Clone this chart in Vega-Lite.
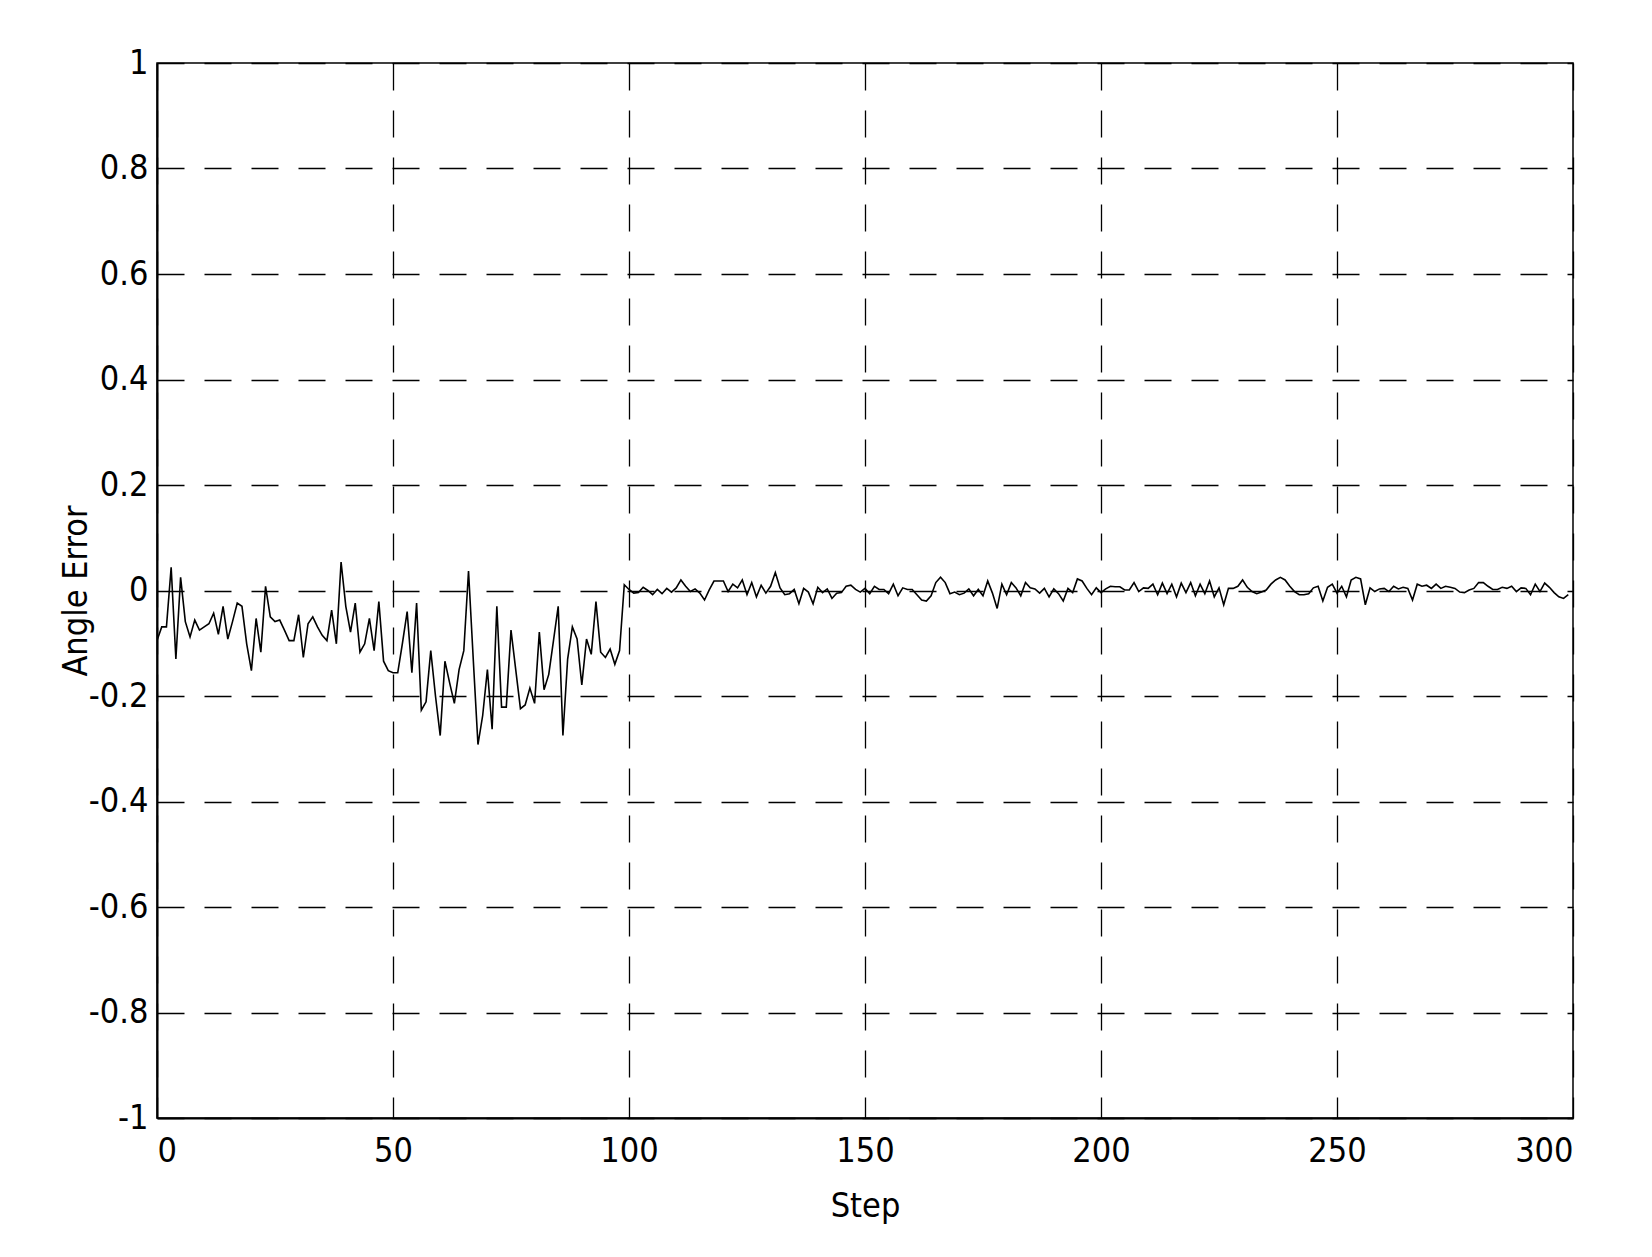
{
  "$schema": "https://vega.github.io/schema/vega-lite/v6.json",
  "width": 1416,
  "height": 1055,
  "autosize": "none",
  "padding": {"left": 157, "top": 63, "right": 79, "bottom": 139},
  "background": "white",
  "data": {
    "values": [
      {"step":0,"err":-0.095},{"step":1,"err":-0.069},{"step":2,"err":-0.069},{"step":3,"err":0.044},{"step":4,"err":-0.13},
      {"step":5,"err":0.025},{"step":6,"err":-0.059},{"step":7,"err":-0.088},{"step":8,"err":-0.056},{"step":9,"err":-0.075},
      {"step":10,"err":-0.069},{"step":11,"err":-0.063},{"step":12,"err":-0.043},{"step":13,"err":-0.083},{"step":14,"err":-0.03},
      {"step":15,"err":-0.092},{"step":16,"err":-0.059},{"step":17,"err":-0.024},{"step":18,"err":-0.03},{"step":19,"err":-0.101},
      {"step":20,"err":-0.152},{"step":21,"err":-0.053},{"step":22,"err":-0.117},{"step":23,"err":0.008},{"step":24,"err":-0.05},
      {"step":25,"err":-0.059},{"step":26,"err":-0.056},{"step":27,"err":-0.075},{"step":28,"err":-0.095},{"step":29,"err":-0.095},
      {"step":30,"err":-0.046},{"step":31,"err":-0.127},{"step":32,"err":-0.063},{"step":33,"err":-0.05},{"step":34,"err":-0.069},
      {"step":35,"err":-0.085},{"step":36,"err":-0.095},{"step":37,"err":-0.037},{"step":38,"err":-0.101},{"step":39,"err":0.054},
      {"step":40,"err":-0.03},{"step":41,"err":-0.079},{"step":42,"err":-0.024},{"step":43,"err":-0.117},{"step":44,"err":-0.101},
      {"step":45,"err":-0.053},{"step":46,"err":-0.114},{"step":47,"err":-0.021},{"step":48,"err":-0.134},{"step":49,"err":-0.152},
      {"step":50,"err":-0.156},{"step":51,"err":-0.156},{"step":52,"err":-0.1},{"step":53,"err":-0.04},{"step":54,"err":-0.156},
      {"step":55,"err":-0.024},{"step":56,"err":-0.227},{"step":57,"err":-0.211},{"step":58,"err":-0.114},{"step":59,"err":-0.2},
      {"step":60,"err":-0.275},{"step":61,"err":-0.134},{"step":62,"err":-0.175},{"step":63,"err":-0.214},{"step":64,"err":-0.15},
      {"step":65,"err":-0.114},{"step":66,"err":0.037},{"step":67,"err":-0.13},{"step":68,"err":-0.292},{"step":69,"err":-0.237},
      {"step":70,"err":-0.15},{"step":71,"err":-0.263},{"step":72,"err":-0.03},{"step":73,"err":-0.221},{"step":74,"err":-0.221},
      {"step":75,"err":-0.075},{"step":76,"err":-0.15},{"step":77,"err":-0.224},{"step":78,"err":-0.217},{"step":79,"err":-0.185},
      {"step":80,"err":-0.214},{"step":81,"err":-0.079},{"step":82,"err":-0.188},{"step":83,"err":-0.159},{"step":84,"err":-0.095},
      {"step":85,"err":-0.03},{"step":86,"err":-0.275},{"step":87,"err":-0.13},{"step":88,"err":-0.069},{"step":89,"err":-0.092},
      {"step":90,"err":-0.179},{"step":91,"err":-0.092},{"step":92,"err":-0.121},{"step":93,"err":-0.021},{"step":94,"err":-0.117},
      {"step":95,"err":-0.127},{"step":96,"err":-0.111},{"step":97,"err":-0.14},{"step":98,"err":-0.114},{"step":99,"err":0.011},
      {"step":100,"err":0.002},{"step":101,"err":-0.005},{"step":102,"err":-0.004},{"step":103,"err":0.006},{"step":104,"err":0.0},
      {"step":105,"err":-0.008},{"step":106,"err":0.002},{"step":107,"err":-0.006},{"step":108,"err":0.004},{"step":109,"err":-0.003},
      {"step":110,"err":0.005},{"step":111,"err":0.02},{"step":112,"err":0.008},{"step":113,"err":-0.002},{"step":114,"err":0.003},
      {"step":115,"err":-0.005},{"step":116,"err":-0.018},{"step":117,"err":0.001},{"step":118,"err":0.018},{"step":119,"err":0.018},
      {"step":120,"err":0.018},{"step":121,"err":-0.002},{"step":122,"err":0.012},{"step":123,"err":0.005},{"step":124,"err":0.02},
      {"step":125,"err":-0.008},{"step":126,"err":0.015},{"step":127,"err":-0.012},{"step":128,"err":0.01},{"step":129,"err":-0.005},
      {"step":130,"err":0.008},{"step":131,"err":0.034},{"step":132,"err":0.005},{"step":133,"err":-0.008},{"step":134,"err":-0.006},
      {"step":135,"err":0.002},{"step":136,"err":-0.025},{"step":137,"err":0.004},{"step":138,"err":-0.003},{"step":139,"err":-0.025},
      {"step":140,"err":0.006},{"step":141,"err":-0.004},{"step":142,"err":0.003},{"step":143,"err":-0.015},{"step":144,"err":-0.005},
      {"step":145,"err":-0.004},{"step":146,"err":0.008},{"step":147,"err":0.01},{"step":148,"err":0.002},{"step":149,"err":-0.003},
      {"step":150,"err":0.004},{"step":151,"err":-0.006},{"step":152,"err":0.008},{"step":153,"err":0.002},{"step":154,"err":0.002},
      {"step":155,"err":-0.006},{"step":156,"err":0.012},{"step":157,"err":-0.01},{"step":158,"err":0.005},{"step":159,"err":0.002},
      {"step":160,"err":0.002},{"step":161,"err":-0.008},{"step":162,"err":-0.018},{"step":163,"err":-0.02},{"step":164,"err":-0.01},
      {"step":165,"err":0.015},{"step":166,"err":0.025},{"step":167,"err":0.015},{"step":168,"err":-0.006},{"step":169,"err":-0.003},
      {"step":170,"err":-0.008},{"step":171,"err":-0.005},{"step":172,"err":0.003},{"step":173,"err":-0.01},{"step":174,"err":0.002},
      {"step":175,"err":-0.01},{"step":176,"err":0.018},{"step":177,"err":-0.005},{"step":178,"err":-0.034},{"step":179,"err":0.012},
      {"step":180,"err":-0.008},{"step":181,"err":0.015},{"step":182,"err":0.005},{"step":183,"err":-0.01},{"step":184,"err":0.015},
      {"step":185,"err":0.005},{"step":186,"err":0.003},{"step":187,"err":-0.005},{"step":188,"err":0.004},{"step":189,"err":-0.012},
      {"step":190,"err":0.003},{"step":191,"err":-0.006},{"step":192,"err":-0.02},{"step":193,"err":0.004},{"step":194,"err":-0.004},
      {"step":195,"err":0.022},{"step":196,"err":0.018},{"step":197,"err":0.004},{"step":198,"err":-0.008},{"step":199,"err":0.005},
      {"step":200,"err":-0.004},{"step":201,"err":0.003},{"step":202,"err":0.008},{"step":203,"err":0.007},{"step":204,"err":0.007},
      {"step":205,"err":0.001},{"step":206,"err":0.001},{"step":207,"err":0.015},{"step":208,"err":-0.002},{"step":209,"err":0.005},
      {"step":210,"err":0.004},{"step":211,"err":0.012},{"step":212,"err":-0.008},{"step":213,"err":0.014},{"step":214,"err":-0.006},
      {"step":215,"err":0.012},{"step":216,"err":-0.012},{"step":217,"err":0.014},{"step":218,"err":-0.004},{"step":219,"err":0.015},
      {"step":220,"err":-0.01},{"step":221,"err":0.012},{"step":222,"err":-0.006},{"step":223,"err":0.018},{"step":224,"err":-0.012},
      {"step":225,"err":0.005},{"step":226,"err":-0.027},{"step":227,"err":0.004},{"step":228,"err":0.004},{"step":229,"err":0.008},
      {"step":230,"err":0.02},{"step":231,"err":0.006},{"step":232,"err":-0.002},{"step":233,"err":-0.006},{"step":234,"err":-0.003},
      {"step":235,"err":0.001},{"step":236,"err":0.012},{"step":237,"err":0.02},{"step":238,"err":0.025},{"step":239,"err":0.02},
      {"step":240,"err":0.008},{"step":241,"err":-0.002},{"step":242,"err":-0.008},{"step":243,"err":-0.008},{"step":244,"err":-0.006},
      {"step":245,"err":0.005},{"step":246,"err":0.008},{"step":247,"err":-0.02},{"step":248,"err":0.006},{"step":249,"err":0.012},
      {"step":250,"err":-0.005},{"step":251,"err":0.008},{"step":252,"err":-0.012},{"step":253,"err":0.02},{"step":254,"err":0.025},
      {"step":255,"err":0.022},{"step":256,"err":-0.027},{"step":257,"err":0.005},{"step":258,"err":-0.002},{"step":259,"err":0.003},
      {"step":260,"err":0.004},{"step":261,"err":-0.002},{"step":262,"err":0.008},{"step":263,"err":0.003},{"step":264,"err":0.006},
      {"step":265,"err":0.004},{"step":266,"err":-0.018},{"step":267,"err":0.012},{"step":268,"err":0.008},{"step":269,"err":0.01},
      {"step":270,"err":0.004},{"step":271,"err":0.012},{"step":272,"err":0.004},{"step":273,"err":0.008},{"step":274,"err":0.006},
      {"step":275,"err":0.004},{"step":276,"err":-0.003},{"step":277,"err":-0.004},{"step":278,"err":0.001},{"step":279,"err":0.004},
      {"step":280,"err":0.015},{"step":281,"err":0.015},{"step":282,"err":0.008},{"step":283,"err":0.002},{"step":284,"err":0.002},
      {"step":285,"err":0.006},{"step":286,"err":0.004},{"step":287,"err":0.008},{"step":288,"err":-0.002},{"step":289,"err":0.005},
      {"step":290,"err":0.004},{"step":291,"err":-0.008},{"step":292,"err":0.012},{"step":293,"err":-0.002},{"step":294,"err":0.014},
      {"step":295,"err":0.006},{"step":296,"err":-0.004},{"step":297,"err":-0.012},{"step":298,"err":-0.015},{"step":299,"err":-0.008}
    ]
  },
  "mark": {"type": "line", "color": "black", "strokeWidth": 1.6, "clip": true},
  "encoding": {
    "x": {
      "field": "step",
      "type": "quantitative",
      "scale": {"domain": [0, 300], "nice": false, "zero": false},
      "axis": {
        "title": "Step",
        "values": [0, 50, 100, 150, 200, 250, 300],
        "labelPadding": 16,
        "titleY": 88,
        "titleBaseline": "middle"
      }
    },
    "y": {
      "field": "err",
      "type": "quantitative",
      "scale": {"domain": [-1, 1], "nice": false},
      "axis": {
        "title": "Angle Error",
        "values": [-1, -0.8, -0.6, -0.4, -0.2, 0, 0.2, 0.4, 0.6, 0.8, 1],
        "labelExpr": "replace(format(datum.value, '~g'), '\u2212', '-')",
        "labelPadding": 9,
        "titleX": -81,
        "titleBaseline": "middle"
      }
    }
  },
  "config": {
    "font": "DejaVu Sans Condensed, Liberation Sans, sans-serif",
    "view": {"stroke": "black", "strokeWidth": 1.5},
    "axis": {
      "grid": true,
      "gridColor": "black",
      "gridOpacity": 1,
      "gridWidth": 1.3,
      "gridDash": [27, 20],
      "domain": true,
      "domainColor": "black",
      "domainWidth": 2,
      "ticks": false,
      "labelFont": "DejaVu Sans Condensed, Liberation Sans, sans-serif",
      "labelFontSize": 34,
      "labelColor": "black",
      "titleFont": "DejaVu Sans Condensed, Liberation Sans, sans-serif",
      "titleFontSize": 34,
      "titleFontWeight": "normal",
      "titleColor": "black"
    }
  }
}
